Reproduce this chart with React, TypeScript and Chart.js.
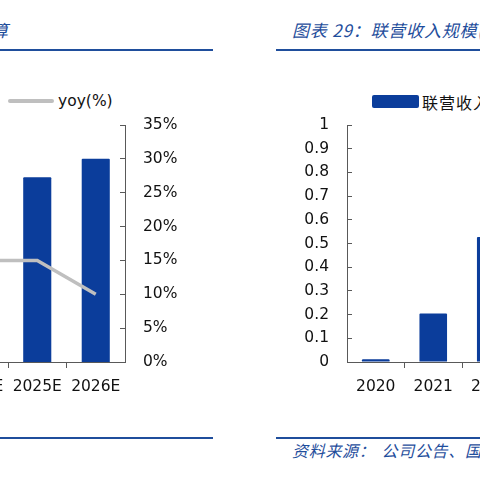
import { useEffect, useRef } from 'react';
import { Chart, registerables } from 'chart.js';

Chart.register(...registerables);

// left chart (only its right part is in view)
const leftLabels = ['2024E', '2025E', '2026E'];
const leftBars = [24.5, 27.3, 30.0];
const yoyValues = [15, 15, 10];
const yoyMax = 35;
const yoyStep = 5;

// right chart (only its left part is in view)
const rightLabels = ['2020', '2021', '2022'];
const rightBars = [0.012, 0.205, 0.527];
const rightMax = 1;
const rightStep = 0.1;

const BLUE = '#0b3d9b';
const GREY = '#bfbfbf';
const AXIS = '#595959';
const TITLE_BLUE = '#1f4e9c';
const FONT = { family: 'DejaVu Sans', size: 15.5 };

const edgeTick = (count: number) => (c: any) =>
   c.index > 0 && c.index < count ? AXIS : 'rgba(0,0,0,0)';

// y axes: fixed width, and drop the label padding chart.js adds on top/bottom
const fitY = (width: number) => (s: any) => {
   s.width = width;
   s.paddingTop = 0;
   s.paddingBottom = 0;
};

function LeftChart() {
   const ref = useRef<HTMLCanvasElement>(null);
   const chart = useRef<Chart | null>(null);

   useEffect(() => {
      if (!ref.current) return;
      if (chart.current) chart.current.destroy();
      chart.current = new Chart(ref.current, {
         type: 'bar',
         data: {
            labels: leftLabels,
            datasets: [
               {
                  type: 'line',
                  label: 'yoy(%)',
                  data: yoyValues,
                  yAxisID: 'y1',
                  borderColor: GREY,
                  borderWidth: 3.5,
                  pointRadius: 0,
                  order: 0,
               },
               {
                  type: 'bar',
                  label: 'bar',
                  data: leftBars,
                  yAxisID: 'y',
                  backgroundColor: BLUE,
                  barPercentage: 0.48,
                  categoryPercentage: 1,
                  borderRadius: 1,
                  order: 1,
               },
            ],
         },
         options: {
            responsive: false,
            animation: false,
            layout: { padding: { left: 49.5, right: 0, top: 25, bottom: 0 } },
            plugins: { legend: { display: false }, tooltip: { enabled: false } },
            scales: {
               x: {
                  offset: true,
                  grid: {
                     offset: true,
                     drawOnChartArea: false,
                     tickLength: 6,
                     color: edgeTick(leftLabels.length),
                  },
                  border: { color: AXIS, width: 1 },
                  ticks: { font: FONT, color: '#111', padding: 10, maxRotation: 0, autoSkip: false },
                  afterFit: (s: any) => {
                     s.height = 38;
                  },
               },
               y: { display: false, min: 0, max: yoyMax },
               y1: {
                  position: 'right',
                  min: 0,
                  max: yoyMax,
                  grid: { drawOnChartArea: false, tickLength: -5, color: AXIS },
                  border: { color: AXIS, width: 1 },
                  ticks: {
                     stepSize: yoyStep,
                     font: FONT,
                     color: '#111',
                     padding: 23,
                     callback: (v) => `${v}%`,
                  },
                  afterFit: fitY(75),
               },
            },
         },
      });
      return () => {
         if (chart.current) chart.current.destroy();
         chart.current = null;
      };
   }, []);

   return (
      <canvas
         ref={ref}
         width={300}
         height={300}
         style={{ position: 'absolute', left: -100, top: 100, width: 300, height: 300 }}
      />
   );
}

function RightChart() {
   const ref = useRef<HTMLCanvasElement>(null);
   const chart = useRef<Chart | null>(null);

   useEffect(() => {
      if (!ref.current) return;
      if (chart.current) chart.current.destroy();
      chart.current = new Chart(ref.current, {
         type: 'bar',
         data: {
            labels: rightLabels,
            datasets: [
               {
                  label: '联营收入',
                  data: rightBars,
                  backgroundColor: BLUE,
                  barPercentage: 0.48,
                  categoryPercentage: 1,
                  borderRadius: 1,
               },
            ],
         },
         options: {
            responsive: false,
            animation: false,
            layout: { padding: { left: 0, right: 30.5, top: 25, bottom: 0 } },
            plugins: { legend: { display: false }, tooltip: { enabled: false } },
            scales: {
               x: {
                  offset: true,
                  grid: {
                     offset: true,
                     drawOnChartArea: false,
                     tickLength: 6,
                     color: edgeTick(rightLabels.length),
                  },
                  border: { color: AXIS, width: 1 },
                  ticks: { font: FONT, color: '#111', padding: 10, maxRotation: 0, autoSkip: false },
                  afterFit: (s: any) => {
                     s.height = 38;
                  },
               },
               y: {
                  min: 0,
                  max: rightMax,
                  grid: { drawOnChartArea: false, tickLength: -5, color: AXIS },
                  border: { color: AXIS, width: 1 },
                  ticks: {
                     stepSize: rightStep,
                     font: FONT,
                     color: '#111',
                     padding: 23,
                     callback: (v) => String(Math.round(Number(v) * 10) / 10),
                  },
                  afterFit: fitY(97),
               },
            },
         },
      });
      return () => {
         if (chart.current) chart.current.destroy();
         chart.current = null;
      };
   }, []);

   return (
      <canvas
         ref={ref}
         width={300}
         height={300}
         style={{ position: 'absolute', left: 250, top: 100, width: 300, height: 300 }}
      />
   );
}

const rule = (left: number, width: number, top: number) => (
   <div style={{ position: 'absolute', left, top, width, height: 2, background: TITLE_BLUE }} />
);

const cjkItalic = {
   position: 'absolute' as const,
   fontFamily: '"Noto Sans CJK SC", sans-serif',
   fontStyle: 'italic',
   color: TITLE_BLUE,
   whiteSpace: 'nowrap' as const,
   lineHeight: 1,
};

export default function App() {
   useEffect(() => {
      document.body.style.margin = '0';
   }, []);

   return (
      <div
         style={{
            position: 'fixed',
            left: 0,
            top: 0,
            width: 480,
            height: 480,
            overflow: 'hidden',
            background: '#fff',
         }}
      >
         {/* left panel */}
         <div style={{ ...cjkItalic, left: -26, top: 21, fontSize: 17 }}>测算</div>
         {rule(0, 213, 49)}
         <div
            style={{
               position: 'absolute',
               left: 8,
               top: 99,
               width: 46,
               height: 4,
               borderRadius: 2,
               background: GREY,
            }}
         />
         <div
            style={{
               position: 'absolute',
               left: 58,
               top: 91,
               fontFamily: 'DejaVu Sans',
               fontSize: 15.5,
               lineHeight: '20px',
               color: '#111',
               whiteSpace: 'nowrap',
            }}
         >
            yoy(%)
         </div>
         <LeftChart />
         {rule(0, 213, 437)}

         {/* right panel */}
         <div style={{ ...cjkItalic, left: 292, top: 21, fontSize: 17, letterSpacing: 0.8 }}>
            图表 29：联营收入规模(亿元)
         </div>
         {rule(276, 204, 49)}
         <div
            style={{
               position: 'absolute',
               left: 372,
               top: 95,
               width: 47,
               height: 13,
               borderRadius: 2,
               background: BLUE,
            }}
         />
         <div
            style={{
               position: 'absolute',
               left: 422,
               top: 92,
               fontFamily: '"Noto Sans CJK SC", sans-serif',
               fontSize: 16,
               letterSpacing: 1,
               lineHeight: '20px',
               color: '#111',
               whiteSpace: 'nowrap',
            }}
         >
            联营收入
         </div>
         <RightChart />
         {rule(276, 204, 437)}
         <div style={{ ...cjkItalic, left: 292, top: 442, fontSize: 16, letterSpacing: 0.7 }}>
            资料来源：<span style={{ marginLeft: 6 }}>公司公告、国</span>
         </div>
      </div>
   );
}
